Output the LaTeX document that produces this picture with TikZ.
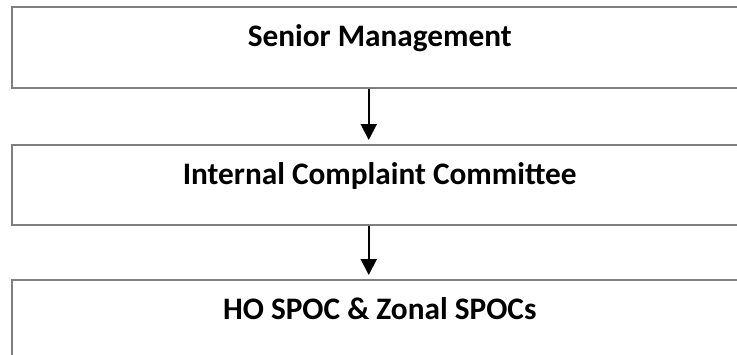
\documentclass[tikz,border=0pt]{standalone}
\usepackage{fontspec}
\setmainfont{Carlito}
\usepackage{tikz}
\usetikzlibrary{arrows.meta}
\usetikzlibrary{positioning, calc}
\tikzset{
    levelbox/.style = {draw=black!50, line width=1.5pt, inner sep=0pt,
        minimum width=736pt, text height=40pt, text depth=41pt,
        font=\fontsize{31.3}{36}\selectfont\bfseries},
}

\begin{document}
\begin{tikzpicture}[x=1pt,y=-1pt,->,>={Triangle[width=16pt,length=16pt]},line width=2pt,shorten >=4pt]
            \useasboundingbox (0,0) rectangle (737,354);
            \node (senior) [levelbox, anchor=north west] at (11,6) {Senior Management};
            \node (icc) [levelbox, anchor=north west, text depth=40pt] at (11,144) {Internal Complaint Committee};
            \node (spoc) [levelbox, anchor=north west] at (11,279) {HO SPOC \& Zonal SPOCs};
            \draw ([xshift=-11pt]senior.south) -- ([xshift=-11pt]icc.north);
            \draw ([xshift=-11pt]icc.south) -- ([xshift=-11pt]spoc.north);
\end{tikzpicture}
\end{document}
